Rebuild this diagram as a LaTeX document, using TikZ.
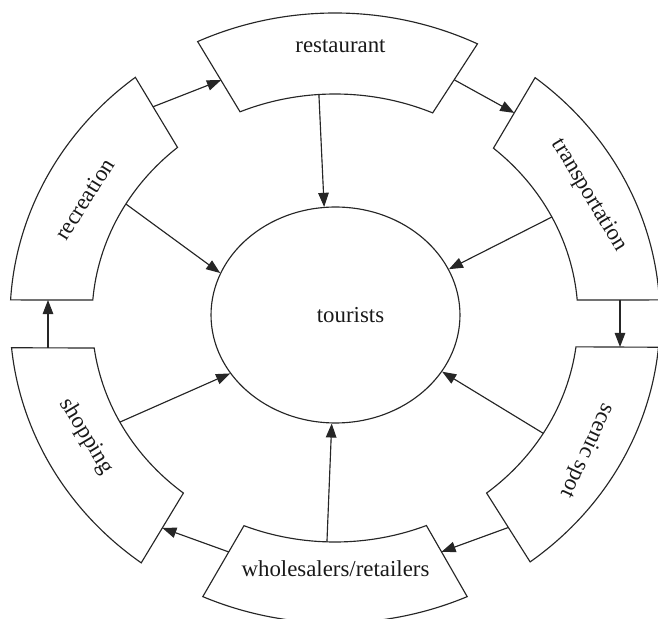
\documentclass[tikz,border=0pt]{standalone}
\usepackage{fontspec}
\setmainfont{Liberation Serif}
\usetikzlibrary{arrows.meta, shapes.geometric, calc}

\begin{document}
\begin{tikzpicture}[
          x=0.02cm, y=0.02cm,
          font=\fontsize{13}{15}\selectfont,
          sector/.style={draw=black!85, line width=0.65pt},
          outarc/.style={x radius=325, y radius=305},
          inarc/.style={x radius=243, y radius=224},
          lbl/.style={anchor=mid, inner sep=0pt, text=black!90},
          hub/.style={draw=black!85, line width=0.65pt, ellipse, inner sep=0pt,
                      minimum width=4.98cm, minimum height=4.32cm},
          flow/.style={-{Triangle[length=8pt, width=6pt]}, line width=0.65pt, draw=black!85, fill=black!85}
        ]
        \useasboundingbox (-335,-300) rectangle (323,318);
        \clip (-335,-300) rectangle (323,318);
        % ring of sectors
        \draw[sector] (64:325 and 305) coordinate (rest-or)
          arc[outarc, start angle=64, end angle=115] coordinate (rest-ol)
          -- (113:243 and 224) coordinate (rest-il)
          arc[inarc, start angle=113, end angle=66.3] coordinate (rest-ir) -- cycle;
        \draw[sector] (3.4:325 and 305) coordinate (tran-ob)
          arc[outarc, start angle=3.4, end angle=52] coordinate (tran-ot)
          -- (49.3:243 and 224) coordinate (tran-it)
          arc[inarc, start angle=49.3, end angle=4.6] coordinate (tran-ib) -- cycle;
        \draw[sector] (-53.1:325 and 305) coordinate (scen-ob)
          arc[outarc, start angle=-53.1, end angle=-5.5] coordinate (scen-ot)
          -- (-7.4:243 and 224) coordinate (scen-it)
          arc[inarc, start angle=-7.4, end angle=-51.4] coordinate (scen-ib) -- cycle;
        \draw[sector] (-114:325 and 305) coordinate (whol-ol)
          arc[outarc, start angle=-114, end angle=-66] coordinate (whol-or)
          -- (-67.9:243 and 224) coordinate (whol-ir)
          arc[inarc, start angle=-67.9, end angle=-112] coordinate (whol-il) -- cycle;
        \draw[sector] (185.6:325 and 305) coordinate (shop-ot)
          arc[outarc, start angle=185.6, end angle=233.4] coordinate (shop-ob)
          -- (231.4:243 and 224) coordinate (shop-ib)
          arc[inarc, start angle=231.4, end angle=187.7] coordinate (shop-it) -- cycle;
        \draw[sector] (127.9:325 and 305) coordinate (recr-ot)
          arc[outarc, start angle=127.9, end angle=176.6] coordinate (recr-ob)
          -- (175.4:243 and 224) coordinate (recr-ib)
          arc[inarc, start angle=175.4, end angle=130.4] coordinate (recr-it) -- cycle;
        % labels
        \node[lbl] (restaurant) at (5.5,270) {restaurant};
        \node[lbl, rotate=-59] (transport) at (253,122) {transportation};
        \node[lbl, rotate=-115] (scenic) at (251,-132) {scenic spot};
        \node[lbl] (wholesale) at (0.5,-254.5) {wholesalers/retailers};
        \node[lbl, rotate=-59] (shopping) at (-250,-119) {shopping};
        \node[lbl, rotate=58] (recreation) at (-247.5,117) {recreation};
        \node[hub, label={[lbl, xshift=0.3cm]center:tourists}] (tourists) at (0.5,3) {};
        % arrow ends
        \coordinate (recr-r) at ($(recr-ot)!0.42!(recr-it)$);
        \coordinate (rest-l) at ($(rest-ol)!0.55!(rest-il)$);
        \coordinate (rest-r) at ($(rest-or)!0.52!(rest-ir)$);
        \coordinate (tran-l) at ($(tran-ot)!0.5!(tran-it)$);
        \coordinate (tran-d) at (285,18);
        \coordinate (scen-u) at (285,-29);
        \coordinate (scen-l) at ($(scen-ib)!0.5!(scen-ob)$);
        \coordinate (whol-r) at ($(whol-ir)!0.37!(whol-or)$);
        \coordinate (whol-l) at ($(whol-il)!0.37!(whol-ol)$);
        \coordinate (shop-r) at ($(shop-ib)!0.5!(shop-ob)$);
        \coordinate (shop-u) at (-287,-30);
        \coordinate (recr-d) at (-287,18);
        \coordinate (rest-in) at (93.8:243 and 224);
        \coordinate (recr-in) at (149.4:243 and 224);
        \coordinate (tran-in) at (26.8:243 and 224);
        \coordinate (shop-in) at (207.7:243 and 224);
        \coordinate (scen-in) at (-31:243 and 224);
        \coordinate (whol-in) at (268.1:243 and 224);
        % cycle round the ring
        \draw[flow] (recr-r) -- (rest-l);
        \draw[flow] (rest-r) -- (tran-l);
        \draw[flow] (tran-d) -- (scen-u);
        \draw[flow] (scen-l) -- (whol-r);
        \draw[flow] (whol-l) -- (shop-r);
        \draw[flow] (shop-u) -- (recr-d);
        % into the centre
        \draw[flow] (rest-in) -- (tourists.96);
        \draw[flow] (recr-in) -- (tourists.160);
        \draw[flow] (tran-in) -- (tourists.22);
        \draw[flow] (shop-in) -- (tourists.209);
        \draw[flow] (scen-in) -- (tourists.332);
        \draw[flow] (whol-in) -- (tourists.268);
      \end{tikzpicture}
\end{document}
